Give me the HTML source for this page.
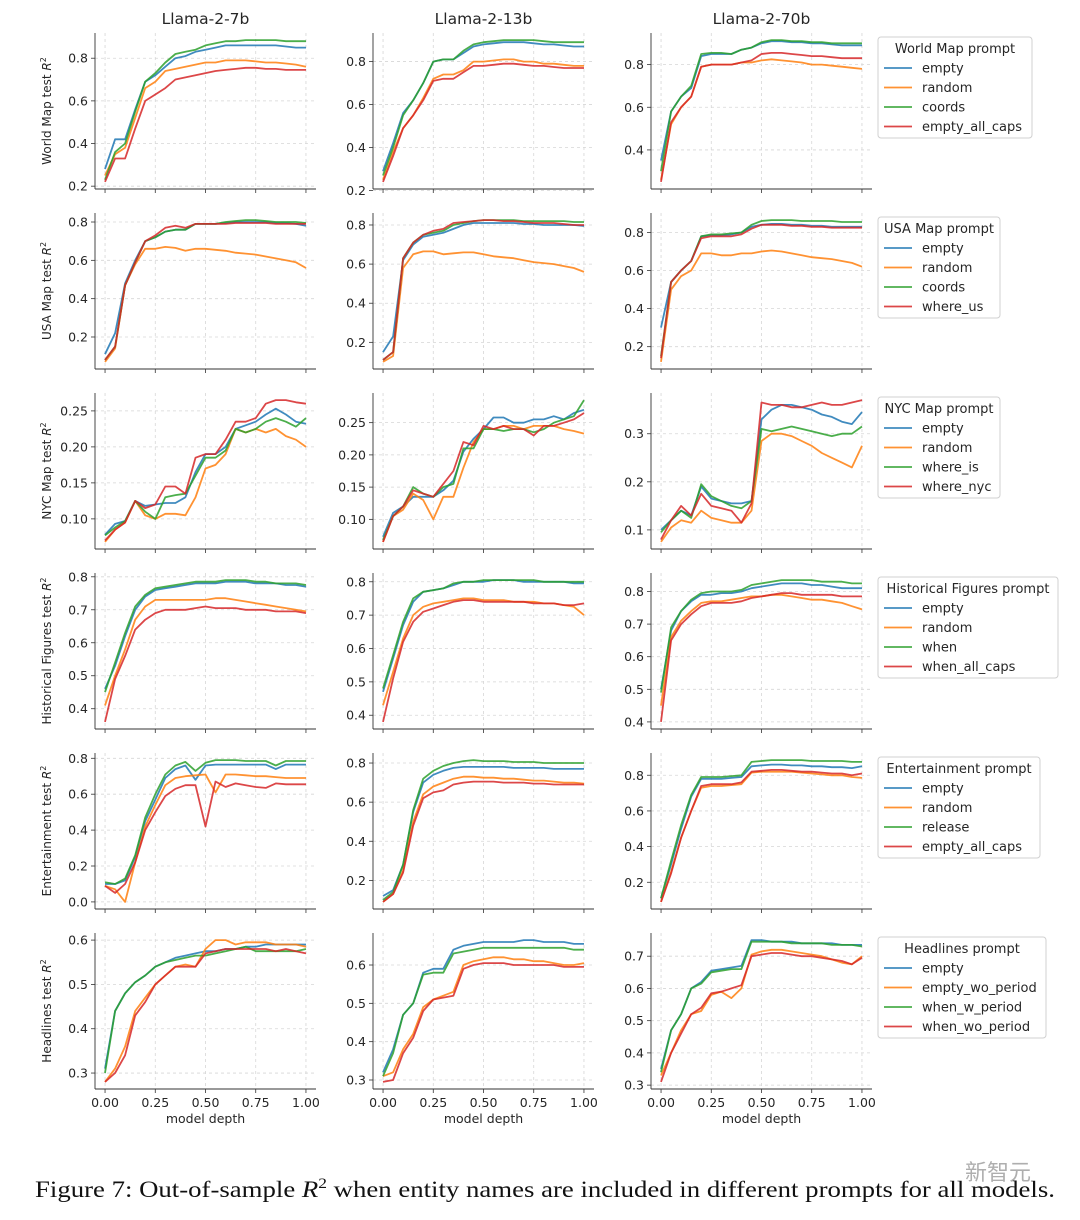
<!DOCTYPE html>
<html><head><meta charset="utf-8">
<style>
html,body{margin:0;padding:0;background:#fff;}
svg{display:block;}
text{font-family:"DejaVu Sans","Liberation Sans",sans-serif;fill:#262626;}
</style></head>
<body>
<svg id="fig" width="1080" height="1220" viewBox="0 0 1080 1220" xmlns="http://www.w3.org/2000/svg">
<g id="panels"></g>
<text x="35" y="1197" font-size="23" textLength="1020" lengthAdjust="spacingAndGlyphs" style="font-family:'Liberation Serif',serif;fill:#111">Figure 7: Out-of-sample <tspan font-style="italic">R</tspan><tspan dy="-9" font-size="15">2</tspan><tspan dy="9"> when entity names are included in different prompts for all models.</tspan></text>
<text x="965" y="1180" font-size="22" style="font-family:'Liberation Sans','Noto Sans CJK SC',sans-serif;fill:#9a9a9a;opacity:0.8">新智元</text>
</svg>
<script>
// ---- data ----
const xs = [0,0.05,0.1,0.15,0.2,0.25,0.3,0.35,0.4,0.45,0.5,0.55,0.6,0.65,0.7,0.75,0.8,0.85,0.9,0.95,1.0];
const models = ["Llama-2-7b","Llama-2-13b","Llama-2-70b"];
const rowLabels = ["World Map","USA Map","NYC Map","Historical Figures","Entertainment","Headlines"];
const legendTitles = ["World Map prompt","USA Map prompt","NYC Map prompt","Historical Figures prompt","Entertainment prompt","Headlines prompt"];
const legendNames = [
 ["empty","random","coords","empty_all_caps"],
 ["empty","random","coords","where_us"],
 ["empty","random","where_is","where_nyc"],
 ["empty","random","when","when_all_caps"],
 ["empty","random","release","empty_all_caps"],
 ["empty","empty_wo_period","when_w_period","when_wo_period"]
];
const yTicks = [
 [[0.2,0.4,0.6,0.8],[0.2,0.4,0.6,0.8],[0.4,0.6,0.8]],
 [[0.2,0.4,0.6,0.8],[0.2,0.4,0.6,0.8],[0.2,0.4,0.6,0.8]],
 [[0.10,0.15,0.20,0.25],[0.10,0.15,0.20,0.25],[0.1,0.2,0.3]],
 [[0.4,0.5,0.6,0.7,0.8],[0.4,0.5,0.6,0.7,0.8],[0.4,0.5,0.6,0.7,0.8]],
 [[0.0,0.2,0.4,0.6,0.8],[0.2,0.4,0.6,0.8],[0.2,0.4,0.6,0.8]],
 [[0.3,0.4,0.5,0.6],[0.3,0.4,0.5,0.6],[0.3,0.4,0.5,0.6,0.7]]
];
const yTickDec = [[1,1,1],[1,1,1],[2,2,1],[1,1,1],[1,1,1],[1,1,1]];
const xTicks = [0,0.25,0.5,0.75,1.0];
const xTickLabels = ["0.00","0.25","0.50","0.75","1.00"];

// World Map
const world7 = [
 [.28,.42,.42,.56,.69,.72,.76,.80,.81,.83,.84,.85,.86,.86,.86,.86,.86,.86,.855,.85,.85],
 [.25,.35,.38,.52,.66,.69,.74,.75,.76,.77,.78,.78,.79,.79,.79,.785,.78,.78,.775,.77,.76],
 [.23,.36,.40,.55,.69,.73,.78,.82,.83,.84,.86,.87,.88,.88,.885,.885,.885,.885,.88,.88,.88],
 [.22,.33,.33,.47,.60,.63,.66,.70,.71,.72,.73,.74,.745,.75,.755,.755,.75,.75,.745,.745,.745]];
const world13 = [
 [.29,.42,.56,.62,.70,.80,.81,.81,.84,.87,.88,.885,.89,.89,.89,.885,.88,.88,.875,.87,.87],
 [.25,.38,.49,.55,.63,.72,.74,.74,.76,.80,.80,.805,.81,.81,.80,.80,.79,.79,.785,.78,.78],
 [.27,.40,.55,.62,.70,.80,.81,.81,.85,.88,.89,.895,.90,.90,.90,.90,.895,.89,.89,.89,.89],
 [.24,.36,.49,.55,.62,.71,.72,.72,.75,.78,.78,.785,.79,.79,.785,.78,.78,.775,.77,.77,.77]];
const world70 = [
 [.35,.58,.65,.69,.84,.85,.85,.85,.87,.88,.90,.91,.91,.905,.905,.90,.90,.895,.89,.89,.89],
 [.26,.52,.60,.65,.79,.80,.80,.80,.81,.81,.82,.825,.82,.815,.81,.80,.80,.795,.79,.785,.78],
 [.30,.58,.65,.70,.85,.855,.855,.85,.87,.88,.905,.915,.915,.91,.91,.905,.905,.90,.90,.90,.90],
 [.25,.53,.60,.65,.79,.80,.80,.80,.81,.82,.85,.855,.855,.85,.845,.84,.84,.835,.83,.83,.83]];
// USA Map
const usa7 = [
 [.11,.22,.48,.60,.70,.72,.75,.76,.76,.79,.79,.79,.795,.80,.80,.80,.80,.795,.795,.79,.78],
 [.07,.14,.47,.58,.66,.66,.67,.665,.65,.66,.66,.655,.65,.64,.635,.63,.62,.61,.60,.59,.56],
 [.08,.15,.47,.59,.70,.72,.75,.76,.76,.79,.79,.79,.80,.805,.81,.81,.805,.80,.80,.80,.795],
 [.08,.15,.47,.59,.70,.73,.77,.78,.77,.79,.79,.79,.79,.795,.795,.795,.795,.79,.79,.79,.79]];
const usa13 = [
 [.15,.23,.62,.70,.74,.75,.76,.78,.80,.81,.81,.81,.81,.81,.805,.805,.80,.80,.80,.80,.795],
 [.10,.13,.58,.65,.665,.665,.65,.655,.66,.66,.65,.64,.635,.63,.62,.61,.605,.60,.59,.58,.56],
 [.11,.15,.63,.71,.75,.76,.77,.80,.81,.82,.825,.825,.825,.825,.82,.82,.82,.82,.82,.815,.815],
 [.11,.15,.63,.71,.75,.77,.78,.81,.815,.82,.825,.825,.82,.82,.815,.81,.81,.81,.805,.80,.80]];
const usa70 = [
 [.30,.54,.60,.65,.78,.785,.785,.79,.80,.83,.84,.845,.845,.84,.84,.835,.835,.83,.83,.83,.83],
 [.12,.50,.57,.60,.69,.69,.68,.68,.69,.69,.70,.705,.70,.69,.68,.67,.665,.66,.65,.64,.62],
 [.15,.54,.60,.65,.78,.79,.79,.795,.80,.84,.86,.865,.865,.865,.86,.86,.86,.86,.855,.855,.855],
 [.14,.54,.60,.65,.77,.78,.78,.78,.79,.82,.84,.84,.84,.835,.835,.83,.83,.825,.825,.825,.825]];
// NYC Map
const nyc7 = [
 [.078,.093,.097,.125,.118,.12,.122,.122,.13,.165,.19,.19,.20,.225,.23,.235,.245,.253,.245,.235,.232],
 [.068,.085,.095,.125,.105,.100,.107,.107,.105,.13,.17,.175,.19,.225,.22,.225,.22,.225,.215,.21,.20],
 [.077,.088,.097,.125,.11,.10,.13,.133,.135,.16,.185,.185,.195,.225,.22,.225,.235,.24,.235,.228,.24],
 [.07,.085,.095,.125,.115,.12,.145,.145,.135,.185,.19,.19,.21,.235,.235,.24,.26,.265,.265,.262,.26]];
const nyc13 = [
 [.073,.11,.12,.135,.135,.135,.145,.16,.205,.225,.24,.258,.258,.25,.25,.255,.255,.26,.255,.265,.27],
 [.065,.105,.115,.14,.13,.10,.135,.135,.18,.22,.24,.24,.245,.245,.24,.245,.245,.245,.24,.237,.233],
 [.068,.105,.12,.15,.14,.135,.15,.155,.21,.21,.24,.24,.237,.24,.24,.235,.24,.25,.255,.26,.285],
 [.065,.105,.12,.145,.14,.135,.155,.175,.22,.215,.245,.24,.245,.24,.24,.23,.245,.245,.25,.255,.265]];
const nyc70 = [
 [.10,.12,.14,.13,.19,.165,.16,.155,.155,.16,.33,.35,.36,.36,.355,.35,.34,.335,.325,.32,.345],
 [.075,.105,.12,.115,.14,.125,.12,.115,.115,.14,.285,.30,.30,.295,.285,.275,.26,.25,.24,.23,.275],
 [.095,.12,.14,.125,.195,.17,.16,.15,.145,.16,.31,.305,.31,.315,.31,.305,.30,.295,.30,.30,.315],
 [.08,.12,.15,.13,.175,.15,.145,.14,.115,.155,.365,.36,.36,.355,.355,.36,.365,.36,.36,.365,.37]];
// Historical Figures
const hist7 = [
 [.46,.53,.62,.70,.74,.76,.765,.77,.775,.78,.78,.78,.785,.785,.785,.78,.78,.78,.775,.775,.77],
 [.41,.50,.58,.67,.71,.73,.73,.73,.73,.73,.73,.735,.735,.73,.725,.72,.715,.71,.705,.70,.695],
 [.45,.54,.63,.71,.745,.765,.77,.775,.78,.785,.785,.785,.79,.79,.79,.785,.785,.78,.78,.78,.775],
 [.36,.49,.56,.64,.67,.69,.70,.70,.70,.705,.71,.705,.705,.705,.70,.70,.70,.695,.695,.695,.69]];
const hist13 = [
 [.47,.57,.67,.74,.77,.775,.78,.79,.80,.80,.80,.805,.805,.805,.80,.80,.80,.80,.80,.795,.795],
 [.43,.53,.63,.70,.725,.735,.74,.745,.75,.75,.745,.745,.745,.74,.74,.74,.735,.735,.73,.725,.70],
 [.48,.58,.68,.75,.77,.775,.78,.795,.80,.80,.805,.805,.805,.805,.805,.805,.80,.80,.80,.80,.80],
 [.38,.51,.62,.68,.71,.72,.73,.74,.745,.745,.74,.74,.74,.74,.74,.735,.735,.735,.73,.73,.735]];
const hist70 = [
 [.50,.68,.74,.77,.79,.79,.795,.795,.80,.81,.815,.82,.825,.825,.825,.82,.82,.815,.81,.81,.81],
 [.45,.66,.71,.74,.765,.77,.77,.775,.78,.785,.785,.79,.79,.785,.78,.775,.775,.77,.765,.755,.745],
 [.49,.69,.74,.775,.795,.80,.80,.80,.805,.82,.825,.83,.835,.835,.835,.835,.83,.83,.83,.825,.825],
 [.40,.65,.70,.73,.755,.765,.765,.765,.77,.78,.785,.79,.795,.795,.79,.79,.79,.79,.785,.785,.785]];
// Entertainment
const ent7 = [
 [.10,.10,.12,.25,.45,.57,.69,.74,.76,.68,.76,.765,.765,.765,.765,.765,.765,.74,.765,.765,.765],
 [.09,.07,.00,.22,.42,.54,.65,.69,.70,.705,.71,.61,.71,.71,.705,.70,.70,.695,.69,.69,.69],
 [.11,.10,.13,.26,.47,.60,.71,.76,.78,.73,.775,.79,.79,.79,.785,.785,.785,.76,.785,.785,.785],
 [.09,.05,.10,.22,.40,.50,.59,.63,.65,.65,.42,.67,.64,.66,.65,.64,.635,.66,.655,.655,.655]];
const ent13 = [
 [.12,.15,.28,.55,.70,.74,.76,.775,.78,.78,.78,.78,.78,.775,.775,.775,.775,.77,.77,.77,.77],
 [.09,.13,.25,.50,.64,.68,.70,.72,.73,.73,.725,.725,.72,.72,.715,.71,.71,.705,.70,.70,.695],
 [.10,.14,.28,.56,.72,.76,.785,.80,.81,.815,.81,.81,.81,.805,.805,.805,.80,.80,.80,.80,.80],
 [.09,.13,.24,.48,.62,.65,.66,.69,.70,.705,.705,.705,.70,.70,.70,.695,.695,.69,.69,.69,.69]];
const ent70 = [
 [.11,.30,.50,.68,.78,.78,.78,.785,.79,.85,.855,.86,.86,.855,.855,.85,.85,.845,.845,.84,.85],
 [.09,.26,.45,.60,.73,.74,.74,.745,.75,.815,.82,.82,.82,.82,.815,.81,.805,.80,.80,.79,.785],
 [.11,.32,.52,.69,.79,.79,.79,.795,.80,.875,.88,.885,.885,.885,.885,.88,.88,.88,.88,.875,.875],
 [.09,.25,.45,.60,.74,.75,.75,.75,.76,.82,.825,.83,.83,.825,.82,.82,.815,.81,.81,.80,.81]];
// Headlines
const head7 = [
 [.31,.44,.48,.505,.52,.54,.55,.56,.565,.57,.575,.575,.58,.58,.585,.585,.59,.59,.59,.59,.59],
 [.28,.31,.36,.44,.47,.50,.52,.54,.545,.54,.58,.60,.60,.59,.595,.595,.595,.59,.59,.59,.585],
 [.30,.44,.48,.505,.52,.54,.55,.555,.56,.565,.565,.57,.575,.58,.585,.575,.575,.575,.575,.575,.58],
 [.28,.30,.34,.43,.46,.50,.52,.54,.54,.54,.57,.575,.58,.58,.58,.58,.58,.575,.58,.575,.57]];
const head13 = [
 [.32,.38,.47,.50,.58,.59,.59,.64,.65,.655,.66,.66,.66,.66,.665,.665,.66,.66,.66,.655,.655],
 [.31,.32,.38,.42,.49,.51,.52,.53,.60,.61,.615,.62,.62,.615,.615,.61,.61,.605,.60,.60,.605],
 [.31,.37,.47,.50,.575,.58,.58,.63,.635,.64,.645,.645,.645,.645,.645,.645,.645,.645,.645,.64,.64],
 [.295,.30,.37,.41,.48,.51,.515,.52,.59,.60,.605,.605,.605,.60,.60,.60,.60,.60,.595,.595,.595]];
const head70 = [
 [.35,.47,.52,.60,.62,.655,.66,.665,.67,.75,.75,.745,.745,.745,.74,.74,.74,.74,.735,.735,.735],
 [.33,.40,.47,.52,.53,.58,.59,.57,.60,.705,.715,.72,.72,.715,.71,.705,.70,.69,.68,.675,.70],
 [.34,.47,.52,.60,.615,.65,.655,.66,.66,.745,.745,.745,.745,.74,.74,.74,.74,.735,.735,.735,.73],
 [.31,.40,.46,.52,.54,.585,.59,.60,.61,.70,.705,.71,.71,.705,.70,.70,.695,.69,.685,.675,.695]];

const grid = [
 [world7,world13,world70],
 [usa7,usa13,usa70],
 [nyc7,nyc13,nyc70],
 [hist7,hist13,hist70],
 [ent7,ent13,ent70],
 [head7,head13,head70]
];
const colors = ["#1f77b4","#ff7f0e","#2ca02c","#d62728"];

// ---- layout ----
const NS = "http://www.w3.org/2000/svg";
const colLeft = [95,373,651], rowTop = [33,213,393,573,753,933];
const PW = 221, PH = 156;
const legW = [154,122,122,180,162,168];
const root = document.getElementById("panels");
function mk(tag, attrs, parent){const e=document.createElementNS(NS,tag);for(const k in attrs)e.setAttribute(k,attrs[k]);(parent||root).appendChild(e);return e;}

for(let r=0;r<6;r++){
 for(let c=0;c<3;c++){
  const series = grid[r][c];
  let mn=Infinity,mx=-Infinity;
  series.forEach(s=>s.forEach(v=>{if(v<mn)mn=v;if(v>mx)mx=v;}));
  const pad=(mx-mn)*0.05, y0=mn-pad, y1=mx+pad;
  const L=colLeft[c], T=rowTop[r];
  const sx = x => L + (x+0.05)/1.1*PW;
  const sy = y => T + PH - (y-y0)/(y1-y0)*PH;
  const g = mk("g",{});
  
  
  // grid
  xTicks.forEach(t=>{const ln=mk("line",{x1:sx(t),x2:sx(t),y1:T,y2:T+PH,stroke:"#d6d6d6","stroke-width":0.8,"stroke-dasharray":"3,3"},g);
   });
  yTicks[r][c].forEach(t=>{const yy=sy(t);
   const ln=mk("line",{x1:L,x2:L+PW,y1:yy,y2:yy,stroke:"#d6d6d6","stroke-width":0.8,"stroke-dasharray":"3,3"},g);
   
   mk("line",{x1:L-4,x2:L,y1:yy,y2:yy,stroke:"#333","stroke-width":0.8},g);
   const tx=mk("text",{x:L-7,y:yy+4.5,"font-size":12.5,"text-anchor":"end"},g);
   tx.textContent=t.toFixed(yTickDec[r][c]);
   
  });
  xTicks.forEach((t,i)=>{mk("line",{x1:sx(t),x2:sx(t),y1:T+PH,y2:T+PH+4,stroke:"#333","stroke-width":0.8},g);
   if(r===5){const tx=mk("text",{x:sx(t),y:T+PH+18,"font-size":12.5,"text-anchor":"middle"},g);tx.textContent=xTickLabels[i];
    }
  });
  // series
  series.forEach((s,k)=>{
   const d=s.map((v,i)=>(i?"L":"M")+sx(xs[i]).toFixed(1)+","+sy(v).toFixed(1)).join(" ");
   const p=mk("path",{d:d,fill:"none",stroke:colors[k],"stroke-width":1.8,"stroke-opacity":0.85,"stroke-linejoin":"round"},g);
   
   
  });
  // spines
  mk("line",{x1:L,x2:L,y1:T,y2:T+PH,stroke:"#333","stroke-width":0.9},g);
  mk("line",{x1:L,x2:L+PW,y1:T+PH,y2:T+PH,stroke:"#333","stroke-width":0.9},g);
  if(r===0){const tt=mk("text",{x:L+PW/2,y:24,"font-size":15.5,"text-anchor":"middle"},g);tt.textContent=models[c];
   }
  if(r===5){const xl=mk("text",{x:L+PW/2,y:1123,"font-size":12.5,"text-anchor":"middle"},g);xl.textContent="model depth";
   }
  if(c===0){
   const cy=T+PH/2;
   const yl=mk("text",{x:0,y:0,"font-size":12,"text-anchor":"middle",transform:`translate(51,${cy}) rotate(-90)`},g);
   yl.innerHTML=rowLabels[r]+' test <tspan font-style="italic">R</tspan><tspan dy="-5" font-size="8">2</tspan>';
   
  }
 }
 // legend
 const T=rowTop[r], lx=878, ly=T+4;
 const lg=mk("g",{});
 
 
 mk("rect",{x:lx,y:ly,width:legW[r],height:101,rx:3,fill:"#fff",stroke:"#d0d0d0","stroke-width":1},lg);
 const tt=mk("text",{x:lx+legW[r]/2,y:ly+16,"font-size":13,"text-anchor":"middle"},lg);tt.textContent=legendTitles[r];
 
 legendNames[r].forEach((n,k)=>{
  const yy=ly+31+k*19.5;
  mk("line",{x1:lx+6,x2:lx+34,y1:yy,y2:yy,stroke:colors[k],"stroke-width":1.8,"stroke-opacity":0.85},lg);
  const t=mk("text",{x:lx+44,y:yy+4.5,"font-size":13},lg);t.textContent=n;
  
 });
}
</script>
</body></html>
